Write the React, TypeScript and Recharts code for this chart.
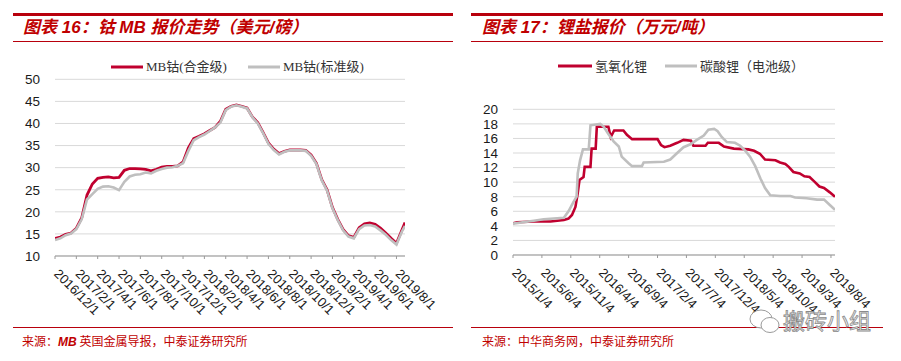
import React from 'react';
import { LineChart, Line, XAxis, YAxis, CartesianGrid, Legend } from 'recharts';

// ---------- Chart 16: cobalt MB price (USD/lb) ----------
const cobaltMonths = [
  0, 0.5, 1, 1.5, 2, 2.5, 3, 3.5, 4, 4.5, 5, 5.5, 6, 6.5, 7, 7.5, 8, 8.5, 9, 9.5,
  10, 10.5, 11, 11.5, 12, 12.5, 13, 13.5, 14, 14.5, 15, 15.5, 16, 16.5, 17, 17.5,
  18, 18.5, 19, 19.5, 20, 20.5, 21, 21.5, 22, 22.5, 23, 23.5, 24, 24.5, 25, 25.5,
  26, 26.5, 27, 27.5, 28, 28.5, 29, 29.5, 30, 30.5, 31, 31.5, 32, 32.5, 32.8,
];
const cobaltAlloy = [
  14.0, 14.3, 14.9, 15.2, 16.3, 18.6, 23.8, 26.3, 27.6, 27.8, 27.9, 27.7, 27.8, 29.4, 29.8, 29.8, 29.7, 29.6, 29.3, 29.6,
  30.1, 30.3, 30.3, 30.4, 31.3, 34.5, 36.6, 37.1, 37.7, 38.4, 39.1, 40.5, 43.2, 43.9, 44.2, 43.9,
  43.5, 41.5, 40.2, 38.0, 35.6, 34.2, 33.2, 33.7, 34.0, 34.0, 34.0, 33.9, 32.9, 31.0, 27.3, 25.0,
  21.0, 18.3, 16.0, 14.6, 14.2, 16.4, 17.3, 17.5, 17.2, 16.3, 15.2, 14.0, 12.9, 15.8, 17.6,
];
const cobaltStandard = [
  13.6, 14.0, 14.7, 15.1, 16.1, 18.3, 22.8, 24.0, 25.2, 25.7, 25.8, 25.5, 24.9, 26.8, 28.0, 28.4, 28.5, 28.9, 28.7, 29.3,
  29.7, 30.0, 30.1, 30.4, 31.0, 33.8, 36.2, 36.9, 37.5, 38.3, 39.1, 40.2, 43.0, 43.8, 44.1, 43.8,
  43.4, 41.4, 40.0, 37.8, 35.4, 34.0, 33.0, 33.6, 33.9, 33.9, 33.9, 33.8, 32.7, 30.8, 27.1, 24.8,
  20.8, 18.1, 15.8, 14.4, 14.0, 16.1, 16.9, 17.0, 16.7, 15.8, 14.8, 13.6, 12.6, 15.5, 16.8,
];
const cobaltTickMonths = [0, 2, 4, 6, 8, 10, 12, 14, 16, 18, 20, 22, 24, 26, 28, 30, 32];
const cobaltTickLabels = [
  '2016/12/1', '2017/2/1', '2017/4/1', '2017/6/1', '2017/8/1', '2017/10/1', '2017/12/1', '2018/2/1',
  '2018/4/1', '2018/6/1', '2018/8/1', '2018/10/1', '2018/12/1', '2019/2/1', '2019/4/1', '2019/6/1', '2019/8/1',
];
const cobaltYTicks = [10, 15, 20, 25, 30, 35, 40, 45, 50];

// ---------- Chart 17: lithium salt price (10k CNY/t) ----------
const hydroxideMonths = [
  0, 0.7, 3.6, 6.5, 8.8, 9.6, 10.2, 10.8, 11.2, 11.5, 12.2, 12.4, 13.4, 13.6, 14.3, 14.5, 16.5, 16.9, 17.5, 19.1,
  19.7, 20.6, 25.0, 25.6, 26.2, 27.2, 28.4, 29.5, 30.8, 31.2, 33.3, 33.7, 35.6, 36.5, 38.2, 40.7, 41.7, 42.7, 43.6, 45.4,
  46.2, 47.1, 47.7, 48.5, 49.6, 50.4, 51.3, 52.1, 53.0, 53.8, 54.8, 55.7,
];
const hydroxideValues = [
  4.35, 4.5, 4.6, 4.6, 4.8, 5.0, 5.5, 6.6, 8.5, 10.3, 10.7, 12.1, 12.1, 14.6, 14.6, 17.6, 17.6, 16.2, 17.1, 17.1,
  16.5, 15.9, 15.9, 15.1, 14.8, 15.0, 15.4, 15.8, 15.7, 15.0, 15.0, 15.4, 15.4, 14.9, 14.6, 14.5, 14.3, 13.9, 13.1, 13.0,
  12.7, 12.5, 12.1, 11.4, 11.2, 10.8, 10.7, 10.1, 9.4, 9.2, 8.6, 8.0,
];
const carbonateMonths = [
  0, 3.6, 5.3, 8.8, 9.6, 10.4, 11.0, 11.2, 11.6, 12.1, 13.1, 13.4, 15.1, 15.7, 16.5, 17.4, 18.3, 18.8, 20.0, 20.6,
  22.3, 22.6, 26.1, 27.2, 28.4, 29.5, 30.7, 31.8, 33.0, 33.8, 34.8, 35.4, 36.1, 37.0, 38.4, 39.3, 40.2, 41.0, 41.9, 42.8,
  43.6, 44.5, 46.2, 48.0, 48.8, 50.8, 52.6, 53.8, 54.9, 55.7,
];
const carbonateValues = [
  4.3, 4.7, 4.9, 5.1, 6.0, 7.2, 8.0, 11.2, 13.0, 14.5, 14.5, 17.8, 18.0, 17.6, 16.6, 15.6, 14.9, 13.5, 12.6, 12.2,
  12.2, 12.7, 12.8, 13.1, 14.0, 14.8, 15.2, 15.8, 16.4, 17.2, 17.3, 17.0, 16.2, 15.5, 15.4, 15.0, 14.3, 13.5, 12.2, 10.5,
  9.2, 8.2, 8.1, 8.1, 7.9, 7.8, 7.6, 7.6, 6.8, 6.2,
];
const lithiumTickMonths = [0, 5, 10, 15, 20, 25, 30, 35, 40, 45, 50, 55];
const lithiumTickLabels = [
  '2015/1/4', '2015/6/4', '2015/11/4', '2016/4/4', '2016/9/4', '2017/2/4', '2017/7/4', '2017/12/4',
  '2018/5/4', '2018/10/4', '2019/3/4', '2019/8/4',
];
const lithiumYTicks = [0, 2, 4, 6, 8, 10, 12, 14, 16, 18, 20];

const cobaltData = cobaltMonths.map((m, i) => ({ m, alloy: cobaltAlloy[i], standard: cobaltStandard[i] }));
const hydroxideData = hydroxideMonths.map((m, i) => ({ m, v: hydroxideValues[i] }));
const carbonateData = carbonateMonths.map((m, i) => ({ m, v: carbonateValues[i] }));

const RED = '#C0002F';
const GRAY = '#BFBFBF';
const HEAD = '#B8000C';
const AXIS_FONT = '"Liberation Sans", Arial, sans-serif';

function makeTick(ticks: number[], labels: string[]) {
  return (props: any) => {
    const { x, y, payload } = props;
    const i = ticks.indexOf(payload.value);
    const label = i >= 0 ? labels[i] : '';
    const ax = x - 1.7;
    const ay = y + 15.6;
    return (
      <text x={ax} y={ay} transform={`rotate(45 ${ax} ${ay})`} textAnchor="start" fontSize={13} fontFamily={AXIS_FONT} fill="#1a1a1a">
        {label}
      </text>
    );
  };
}

function makeLegend(paddingLeft: number, lineWs: number[], gapAfter: number, font: string) {
  return (props: any) => (
    <div style={{ display: 'flex', alignItems: 'center', paddingLeft, height: 16 }}>
      {(props.payload || []).map((p: any, i: number) => (
        <div key={i} style={{ display: 'flex', alignItems: 'center', marginRight: gapAfter }}>
          <svg width={lineWs[i]} height={4} style={{ display: 'block' }}>
            <line x1={0} y1={2} x2={lineWs[i]} y2={2} stroke={p.color} strokeWidth={3} />
          </svg>
          <span style={{ marginLeft: 3, fontSize: 13, fontFamily: font, color: '#333', lineHeight: '16px', whiteSpace: 'nowrap' }}>
            {p.value}
          </span>
        </div>
      ))}
    </div>
  );
}

const titleStyle: React.CSSProperties = {
  position: 'absolute',
  fontFamily: '"Liberation Sans", "Noto Sans CJK SC", sans-serif',
  fontWeight: 700,
  fontStyle: 'italic',
  fontSize: 17,
  lineHeight: '20px',
  color: '#C00000',
  whiteSpace: 'nowrap',
};
const sourceStyle: React.CSSProperties = {
  position: 'absolute',
  fontFamily: '"Noto Sans CJK SC", sans-serif',
  fontSize: 12,
  lineHeight: '14px',
  color: '#C00000',
  whiteSpace: 'nowrap',
};
const bar = (left: number, top: number, width: number, height: number): React.CSSProperties => ({
  position: 'absolute', left, top, width, height, background: HEAD,
});

export default function App() {
  return (
    <div style={{ position: 'absolute', left: 0, top: 0, width: 901, height: 361, background: '#fff', overflow: 'hidden' }}>
      {/* Left panel frame */}
      <div style={bar(13, 13, 440, 3)} />
      <div style={{ ...titleStyle, left: 23, top: 18 }}>图表 16：钴 MB 报价走势（美元/磅）</div>
      <div style={bar(13, 41, 440, 1)} />
      <div style={bar(13, 327, 440, 1)} />
      <div style={{ ...sourceStyle, left: 22, top: 334 }}>
        来源：<span style={{ fontStyle: 'italic', fontWeight: 700, fontFamily: '"Liberation Sans", sans-serif' }}>MB</span> 英国金属导报，中泰证券研究所
      </div>

      {/* Right panel frame */}
      <div style={bar(471, 13, 412, 3)} />
      <div style={{ ...titleStyle, left: 482, top: 18 }}>图表 17：锂盐报价（万元/吨）</div>
      <div style={bar(471, 41, 412, 1)} />
      <div style={bar(471, 327, 412, 1)} />
      <div style={{ ...sourceStyle, left: 482, top: 334 }}>来源：中华商务网，中泰证券研究所</div>

      {/* Left chart */}
      <div style={{ position: 'absolute', left: 0, top: 45 }}>
        <LineChart width={450} height={300} data={cobaltData} margin={{ top: 34.3, right: 45, bottom: 0, left: 0 }}>
          <CartesianGrid vertical={false} stroke="#D9D9D9" strokeWidth={1} />
          <XAxis
            dataKey="m"
            type="number"
            domain={[0, 32.8]}
            ticks={cobaltTickMonths}
            interval={0}
            height={89}
            tickSize={3}
            tickMargin={0}
            axisLine={{ stroke: '#999' }}
            tickLine={{ stroke: '#999' }}
            tick={makeTick(cobaltTickMonths, cobaltTickLabels)}
            allowDataOverflow
          />
          <YAxis
            type="number"
            domain={[10, 50]}
            ticks={cobaltYTicks}
            interval={0}
            width={55}
            axisLine={false}
            tickLine={false}
            tickSize={0}
            tickMargin={15}
            tick={{ fontSize: 13.5, fontFamily: AXIS_FONT, fill: '#1a1a1a' }}
          />
          <Legend
            verticalAlign="middle"
            align="center"
            layout="horizontal"
            wrapperStyle={{ top: 14, left: 0, width: 450, height: 16 }}
            content={makeLegend(111, [32, 32], 21, '"Liberation Serif", "Noto Sans CJK SC", serif')}
          />
          <Line type="linear" dataKey="alloy" name="MB钴(合金级)" stroke={RED} strokeWidth={2.8} dot={false} isAnimationActive={false} />
          <Line type="linear" dataKey="standard" name="MB钴(标准级)" stroke={GRAY} strokeWidth={2.6} dot={false} isAnimationActive={false} />
        </LineChart>
      </div>

      {/* Right chart */}
      <div style={{ position: 'absolute', left: 450, top: 45 }}>
        <LineChart width={451} height={300} margin={{ top: 64.3, right: 66, bottom: 0, left: 0 }}>
          <CartesianGrid vertical={false} stroke="#D9D9D9" strokeWidth={1} />
          <XAxis
            dataKey="m"
            type="number"
            domain={[0, 55.7]}
            ticks={lithiumTickMonths}
            interval={0}
            height={90}
            tickSize={3}
            tickMargin={0}
            axisLine={{ stroke: '#999' }}
            tickLine={{ stroke: '#999' }}
            tick={makeTick(lithiumTickMonths, lithiumTickLabels)}
            allowDataOverflow
          />
          <YAxis
            type="number"
            domain={[0, 20]}
            ticks={lithiumYTicks}
            interval={0}
            width={63}
            axisLine={false}
            tickLine={false}
            tickSize={0}
            tickMargin={15}
            tick={{ fontSize: 13.5, fontFamily: AXIS_FONT, fill: '#1a1a1a' }}
          />
          <Legend
            verticalAlign="middle"
            align="center"
            layout="horizontal"
            wrapperStyle={{ top: 13, left: 0, width: 451, height: 16 }}
            content={makeLegend(108, [34, 32], 18, '"Noto Sans CJK SC", sans-serif')}
          />
          <Line data={hydroxideData} type="linear" dataKey="v" name="氢氧化锂" stroke={RED} strokeWidth={2.6} dot={false} isAnimationActive={false} />
          <Line data={carbonateData} type="linear" dataKey="v" name="碳酸锂（电池级）" stroke={GRAY} strokeWidth={2.6} dot={false} isAnimationActive={false} />
        </LineChart>
      </div>

      {/* Watermark */}
      <svg style={{ position: 'absolute', left: 748, top: 304 }} width={130} height={34}>
        <ellipse cx={13} cy={15} rx={11} ry={9} fill="#fff" stroke="#9a9a9a" strokeWidth={1} />
        <ellipse cx={22} cy={21} rx={9} ry={7.5} fill="#fff" stroke="#9a9a9a" strokeWidth={1} />
        <text x={35} y={25} fontSize={22} fontFamily='"Noto Sans CJK SC", sans-serif' fill="#f2f2f2" stroke="#8a8a8a" strokeWidth={0.8}>
          搬砖小组
        </text>
      </svg>
    </div>
  );
}
